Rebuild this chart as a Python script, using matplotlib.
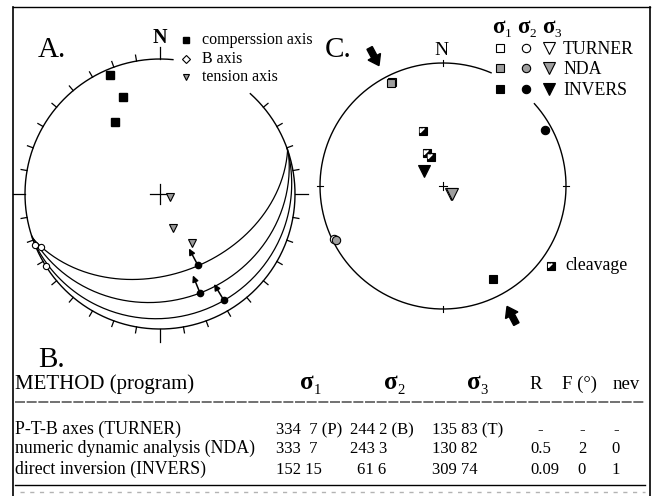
import numpy as np
import matplotlib.pyplot as plt
from matplotlib.patches import FancyArrow, FancyArrowPatch

plt.rcParams['font.family'] = ['Liberation Serif', 'DejaVu Serif']

# ---- panel A: fault-slip data (trend / plunge in degrees)
fault_dipdir = [161, 162, 160]
fault_dip = [40, 22, 9]
striae_trend = [152, 158, 149]
striae_plunge = [40, 22, 9]
p_trend = [337, 339, 328]
p_plunge = [5, 24, 37]
t_trend = [107, 159, 147]
t_plunge = [84, 68, 54]
b_trend = [248, 246, 238]
b_plunge = [0, 4, 0]

# ---- panel C: cleavage and stress axes
cleav_trend = [340, 334, 337]
cleav_plunge = [51, 66, 69]
methods = ['P-T-B axes (TURNER)', 'numeric dynamic analysis (NDA)', 'direct inversion (INVERS)']
programs = ['TURNER', 'NDA', 'INVERS']
s1_trend = [334, 333, 152]
s1_plunge = [7, 7, 15]
s2_trend = [244, 243, 61]
s2_plunge = [2, 3, 6]
s3_trend = [135, 130, 309]
s3_plunge = [83, 82, 74]
r_ratio = ['-', '0.5', '0.09']
f_angle = ['-', '2', '0']
nev = ['-', '0', '1']
turner_tags = ['(P)', '(B)', '(T)']


def proj(trend, plunge, cx, cy, R):
    # lower hemisphere equal-area (Schmidt) projection, y axis points down
    t = np.radians(np.asarray(trend, float))
    p = np.radians(np.asarray(plunge, float))
    r = R * np.sqrt(2) * np.sin((np.pi / 2 - p) / 2)
    return cx + r * np.sin(t), cy - r * np.cos(t)


def plane_line(dipdir, dip):
    a = np.radians(np.linspace(0, 180, 181))
    st, dd, d = np.radians(dipdir - 90), np.radians(dipdir), np.radians(dip)
    e = np.cos(a) * np.sin(st) + np.sin(a) * np.sin(dd) * np.cos(d)
    n = np.cos(a) * np.cos(st) + np.sin(a) * np.cos(dd) * np.cos(d)
    dn = np.sin(a) * np.sin(d)
    return np.degrees(np.arctan2(e, n)), np.degrees(np.arcsin(np.clip(dn, -1, 1)))


def arc(ax, cx, cy, R, a0, a1, **kw):
    az = np.radians(np.linspace(a0, a1, 400))
    ax.plot(cx + R * np.sin(az), cy - R * np.cos(az), color='k', **kw)


def tick(ax, cx, cy, R, az, r0, r1, lw=0.9):
    a = np.radians(az)
    ax.plot([cx + r0 * np.sin(a), cx + r1 * np.sin(a)],
            [cy - r0 * np.cos(a), cy - r1 * np.cos(a)], color='k', lw=lw)


def sigma(ax, x, y, i, size, subsize):
    ax.text(x, y, 'σ', fontsize=size, fontweight='bold', ha='left', va='baseline')
    ax.text(x + size * 0.76, y + size * 0.25, str(i), fontsize=subsize, ha='left', va='baseline')


def cleavage_mark(ax, x, y, ms):
    ax.plot(x, y, 's', mfc='black', mec='k', mew=0.8, ms=ms, zorder=4)
    ax.plot(x, y, marker=[(-1, 1), (-1, -0.3), (0.3, 1)], color='white', ms=ms * 0.75, zorder=4)


fig = plt.figure(figsize=(6.55, 4.96), dpi=100)
ax = fig.add_axes([0, 0, 1, 1])
ax.set_xlim(0, 655)
ax.set_ylim(496, 0)
ax.axis('off')

# frame
ax.plot([13, 13], [496, 7], color='k', lw=1.2)
ax.plot([13, 650], [7, 7], color='k', lw=1.0)
ax.plot([650, 650], [7, 496], color='k', lw=1.2)

# ================= panel A
cxA, cyA, RA = 160, 194, 135
arc(ax, cxA, cyA, RA, 42, 365.5, lw=1.0)
for az in range(0, 360, 10):
    if 5 < az < 45:
        continue
    long = {0: 12, 90: 13, 180: 13, 270: 12}.get(az, 6)
    tick(ax, cxA, cyA, RA, az, RA, RA + long)
ax.plot([cxA - 10, cxA + 10], [cyA, cyA], color='k', lw=0.9)
ax.plot([cxA, cxA], [cyA - 10, cyA + 10], color='k', lw=0.9)

for dd, dp in zip(fault_dipdir, fault_dip):
    tr, pl = plane_line(dd, dp)
    x, y = proj(tr, pl, cxA, cyA, RA)
    ax.plot(x, y, color='k', lw=0.9)

xs, ys = proj(striae_trend, striae_plunge, cxA, cyA, RA)
ax.plot(xs, ys, 'o', color='k', ms=4.5, zorder=5)
for x0, y0, tr in zip(xs, ys, striae_trend):
    a = np.radians(tr + 180)
    ax.add_patch(FancyArrowPatch((x0, y0), (x0 + 19 * np.sin(a), y0 - 19 * np.cos(a)),
                                 arrowstyle='-|>', mutation_scale=9, lw=1.1, color='k',
                                 shrinkA=0, shrinkB=0, zorder=6))

xp, yp = proj(p_trend, p_plunge, cxA, cyA, RA)
ax.plot(xp, yp, 's', color='k', ms=5.5)
xt, yt = proj(t_trend, t_plunge, cxA, cyA, RA)
ax.plot(xt, yt, 'v', mfc='0.6', mec='k', mew=0.8, ms=5.5)
xb, yb = proj(b_trend, b_plunge, cxA, cyA, RA)
ax.plot(xb, yb, 'o', mfc='white', mec='k', mew=0.8, ms=4.5, zorder=5)

ax.text(38, 57, 'A.', fontsize=21, va='baseline')
ax.text(160, 43, 'N', fontsize=14.5, fontweight='bold', ha='center', va='baseline')
ax.plot(186, 40, 's', color='k', ms=5)
ax.plot(186, 59, 'D', mfc='white', mec='k', mew=0.8, ms=4)
ax.plot(186, 77, 'v', mfc='0.6', mec='k', mew=0.8, ms=5)
ax.text(202, 44, 'comperssion axis', fontsize=11.5, va='baseline')
ax.text(202, 63, 'B axis', fontsize=11.5, va='baseline')
ax.text(202, 81, 'tension axis', fontsize=11.5, va='baseline')

# ================= panel C
cxC, cyC, RC = 443, 186, 123
arc(ax, cxC, cyC, RC, 48, 383, lw=1.0)
for az in (0, 90, 180, 270):
    tick(ax, cxC, cyC, RC, az, RC - 3, RC + 3, lw=0.8)
ax.plot([cxC - 4, cxC + 4], [cyC, cyC], color='k', lw=0.8, zorder=6)
ax.plot([cxC, cxC], [cyC - 4, cyC + 4], color='k', lw=0.8, zorder=6)

faces = ['white', '0.62', 'black']
for k in range(3):
    for tr, pl, mk, ms in ((s1_trend, s1_plunge, 's', 6), (s2_trend, s2_plunge, 'o', 6),
                           (s3_trend, s3_plunge, 'v', 8)):
        x, y = proj(tr[k], pl[k], cxC, cyC, RC)
        ax.plot(x, y, mk, mfc=faces[k], mec='k', mew=0.8, ms=ms, zorder=4)

xc, yc = proj(cleav_trend, cleav_plunge, cxC, cyC, RC)
for x, y in zip(xc, yc):
    cleavage_mark(ax, x, y, 6)

# shortening direction arrows
for az in (s1_trend[2] + 180, s1_trend[2]):
    a = np.radians(az)
    xm, ym = cxC + 1.19 * RC * np.sin(a), cyC - 1.19 * RC * np.cos(a)
    ux, uy = -np.sin(a), np.cos(a)
    ax.add_patch(FancyArrow(xm - 10 * ux, ym - 10 * uy, 20 * ux, 20 * uy, width=6,
                            head_width=14, head_length=10, length_includes_head=True,
                            color='k'))

ax.text(325, 57, 'C.', fontsize=21, va='baseline')
ax.text(441, 55, 'N', fontsize=14, ha='center', va='baseline')
for i, x in enumerate([492, 517, 542]):
    sigma(ax, x, 33, i + 1, 16.5, 9.5)
for k, y in enumerate([48, 68, 89]):
    ax.plot(500, y, 's', mfc=faces[k], mec='k', mew=0.8, ms=5.5)
    ax.plot(526, y, 'o', mfc=faces[k], mec='k', mew=0.8, ms=6)
    ax.plot(549, y, 'v', mfc=faces[k], mec='k', mew=0.8, ms=8)
    ax.text(563, y + 6, programs[k], fontsize=12.8, va='baseline')
cleavage_mark(ax, 551, 266, 5.5)
ax.text(565, 270, 'cleavage', fontsize=12.8, va='baseline')

# ================= panel B: table
ax.text(38, 367, 'B.', fontsize=21, va='baseline')
ax.text(15, 389, 'METHOD (program)', fontsize=15, va='baseline')
for i, x in enumerate([300, 384, 467]):
    sigma(ax, x, 389, i + 1, 18, 10.5)
ax.text(536, 389, 'R', fontsize=13.5, ha='center', va='baseline')
ax.text(580, 389, 'F (°)', fontsize=13.5, ha='center', va='baseline')
ax.text(626, 389, 'nev', fontsize=13.5, ha='center', va='baseline')
ax.plot([15, 645], [402, 402], color='0.35', lw=1.2, ls=(0, (6, 1)))

for k, y in enumerate([434, 453, 474]):
    s1 = f'{s1_trend[k]} {s1_plunge[k]:>2d}'.replace('  ', '\u2007')
    s2 = f'{s2_trend[k]} {s2_plunge[k]}'
    s3 = f'{s3_trend[k]} {s3_plunge[k]}'
    if k == 0:
        s1, s2, s3 = s1 + ' ' + turner_tags[0], s2 + ' ' + turner_tags[1], s3 + ' ' + turner_tags[2]
    ax.text(15, y, methods[k], fontsize=12.8, va='baseline')
    ax.text(276, y, s1, fontsize=12, va='baseline')
    ax.text(350 if s2_trend[k] > 99 else 357, y, s2, fontsize=12, va='baseline')
    ax.text(432, y, s3, fontsize=12, va='baseline')
    ax.text(537 if r_ratio[k] == '-' else 530, y, r_ratio[k], fontsize=12, va='baseline')
    ax.text(582, y, f_angle[k], fontsize=12, ha='center', va='baseline')
    ax.text(616, y, nev[k], fontsize=12, ha='center', va='baseline')
ax.plot([15, 645], [485, 485], color='k', lw=1.0)
ax.plot([20, 645], [492, 492], color='0.7', lw=1.0, ls=(0, (3, 4)))

fig.savefig('out.png', dpi=100)
